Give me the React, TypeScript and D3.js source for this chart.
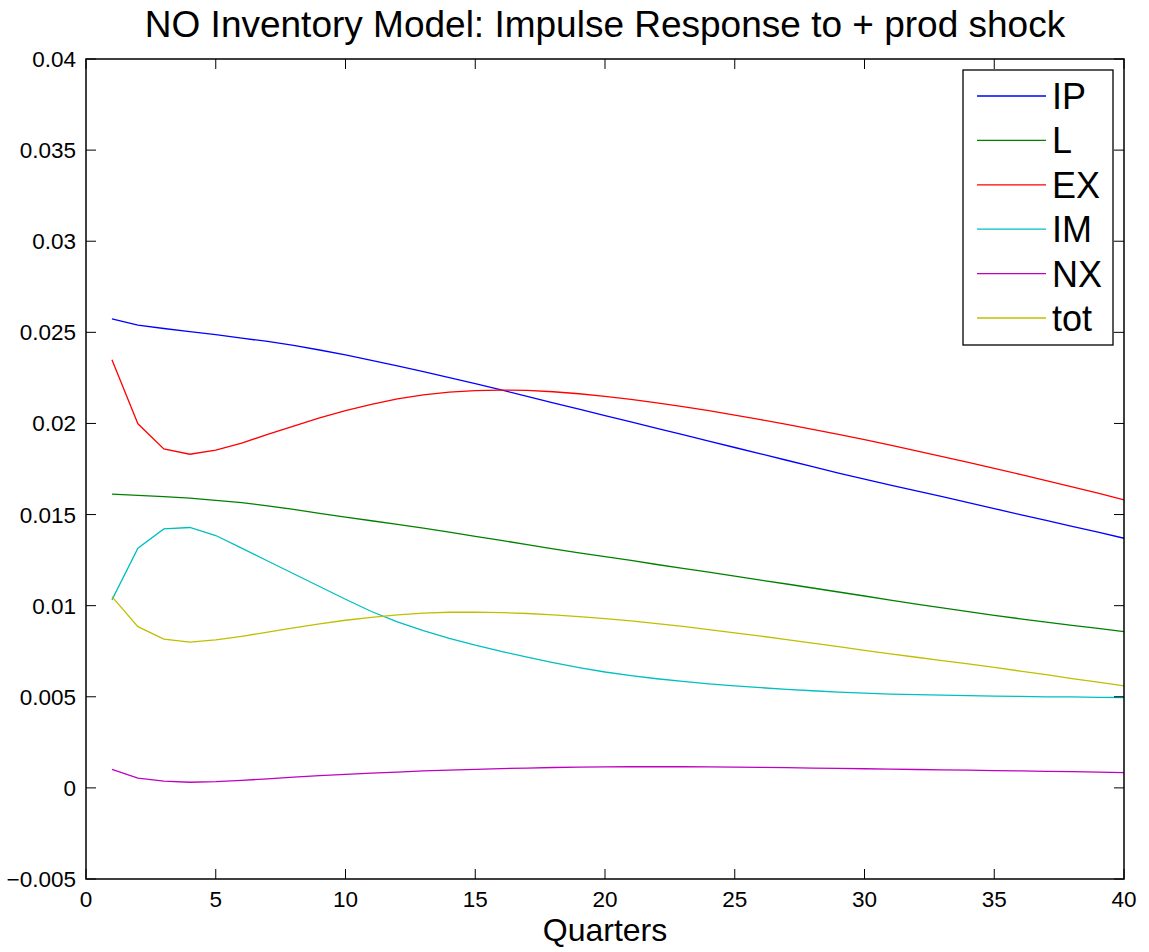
import React from "react";
import * as d3 from "d3";

// quarters 1..40
const quarters = d3.range(1, 41);

const IP = [
  0.02574, 0.02539, 0.02521, 0.02504, 0.02488, 0.02468, 0.0245, 0.02428, 0.02403, 0.02376,
  0.02346, 0.02316, 0.02284, 0.02252, 0.02218, 0.02184, 0.02149, 0.02113, 0.02078, 0.02043,
  0.02008, 0.01973, 0.01938, 0.01903, 0.01868, 0.01833, 0.01798, 0.01763, 0.01728, 0.01694,
  0.01662, 0.0163, 0.01598, 0.01565, 0.01533, 0.015, 0.01468, 0.01435, 0.01403, 0.0137,
];
const L = [
  0.01612, 0.01605, 0.01598, 0.0159, 0.01578, 0.01565, 0.01548, 0.01528, 0.01507, 0.01486,
  0.01466, 0.01446, 0.01425, 0.01403, 0.0138, 0.01358, 0.01335, 0.01312, 0.0129, 0.01269,
  0.01248, 0.01226, 0.01205, 0.01184, 0.01162, 0.0114, 0.01119, 0.01097, 0.01075, 0.01053,
  0.01031, 0.01009, 0.00988, 0.00967, 0.00947, 0.00928, 0.0091, 0.00892, 0.00875, 0.00858,
];
const EX = [
  0.02349, 0.01998, 0.0186, 0.01831, 0.01853, 0.01892, 0.0194, 0.01985, 0.0203, 0.0207,
  0.02105, 0.02135, 0.02157, 0.02172, 0.0218, 0.02183, 0.02181, 0.02174, 0.02163, 0.02149,
  0.02132, 0.02113, 0.02092, 0.0207, 0.02046, 0.02021, 0.01995, 0.01968, 0.0194, 0.01911,
  0.01881, 0.0185, 0.01818, 0.01786, 0.01753, 0.0172, 0.01686, 0.01652, 0.01617, 0.0158,
];
const IM = [
  0.01032, 0.01315, 0.01421, 0.01429, 0.01385, 0.01316, 0.01245, 0.01175, 0.01105, 0.01035,
  0.00968, 0.00911, 0.00863, 0.00821, 0.00783, 0.00749, 0.00717, 0.00687, 0.0066, 0.00636,
  0.00616, 0.00599, 0.00584, 0.00571, 0.0056, 0.0055, 0.00541, 0.00533, 0.00526, 0.0052,
  0.00515, 0.00512, 0.00509, 0.00506, 0.00504, 0.00502, 0.005, 0.00499, 0.00497, 0.00496,
];
const NX = [
  0.00101, 0.00053, 0.00037, 0.00031, 0.00034, 0.00041, 0.0005, 0.00059, 0.00067, 0.00074,
  0.00081, 0.00087, 0.00093, 0.00098, 0.00102, 0.00106, 0.00109, 0.00112, 0.00114, 0.00115,
  0.00116, 0.00116, 0.00116, 0.00115, 0.00114, 0.00113, 0.00111, 0.00109, 0.00107, 0.00105,
  0.00103, 0.00101, 0.00099, 0.00097, 0.00095, 0.00093, 0.00091, 0.00089, 0.00087, 0.00084,
];
const tot = [
  0.0105, 0.00885, 0.00816, 0.008, 0.00812, 0.00832, 0.00855, 0.00878, 0.009, 0.0092,
  0.00936, 0.0095, 0.00959, 0.00964, 0.00965, 0.00962, 0.00957, 0.00949, 0.0094, 0.00929,
  0.00916, 0.00902, 0.00886, 0.00869, 0.00851, 0.00833, 0.00814, 0.00795, 0.00775, 0.00755,
  0.00736, 0.00717, 0.00698, 0.0068, 0.00661, 0.00641, 0.00621, 0.006, 0.0058, 0.0056,
];

const seriesNames = ["IP", "L", "EX", "IM", "NX", "tot"];
const seriesValues = [IP, L, EX, IM, NX, tot];
const seriesColors = ["#0000ff", "#008000", "#ff0000", "#00bfbf", "#bf00bf", "#bfbf00"];

const xTicks = [0, 5, 10, 15, 20, 25, 30, 35, 40];
const yTicks = [-0.005, 0, 0.005, 0.01, 0.015, 0.02, 0.025, 0.03, 0.035, 0.04];

const W = 1149;
const H = 952;
const margin = { top: 59, right: 25, bottom: 73, left: 86 };
const font = "'Liberation Sans', Arial, Helvetica, sans-serif";

const fmtY = (v: number) => {
  if (v === 0) return "0";
  const s = String(Math.abs(v));
  return v < 0 ? "\u2212" + s : s;
};

export default function App() {
  const x = d3.scaleLinear().domain([0, 40]).range([margin.left, W - margin.right]);
  const y = d3.scaleLinear().domain([-0.005, 0.04]).range([H - margin.bottom, margin.top]);
  const line = d3
    .line<number>()
    .x((_, i) => x(quarters[i]))
    .y((d) => y(d));

  const x0 = x.range()[0];
  const x1 = x.range()[1];
  const y0 = y.range()[0];
  const y1 = y.range()[1];
  const tick = 10;

  const legX = 963;
  const legY = 70;
  const legW = 150;
  const legRow = 44.4;

  return (
    <div style={{ position: "absolute", left: 0, top: 0 }}>
      <svg width={W} height={H} style={{ display: "block", background: "#fff" }}>
        <rect x={0} y={0} width={W} height={H} fill="#fff" />
        {/* series */}
        {seriesValues.map((vals, i) => (
          <path
            key={seriesNames[i]}
            d={line(vals) || ""}
            fill="none"
            stroke={seriesColors[i]}
            strokeWidth={1.3}
          />
        ))}

        {/* ticks */}
        {xTicks.map((t) => (
          <g key={"x" + t}>
            <line x1={x(t)} x2={x(t)} y1={y0} y2={y0 - tick} stroke="#000" strokeWidth={1} />
            <line x1={x(t)} x2={x(t)} y1={y1} y2={y1 + tick} stroke="#000" strokeWidth={1} />
            <text
              x={x(t)}
              y={y0 + 28}
              textAnchor="middle"
              fontFamily={font}
              fontSize={22.5}
              fill="#000"
            >
              {t}
            </text>
          </g>
        ))}
        {yTicks.map((t) => (
          <g key={"y" + t}>
            <line x1={x0} x2={x0 + tick} y1={y(t)} y2={y(t)} stroke="#000" strokeWidth={1} />
            <line x1={x1} x2={x1 - tick} y1={y(t)} y2={y(t)} stroke="#000" strokeWidth={1} />
            <text
              x={x0 - 10}
              y={y(t) + 8}
              textAnchor="end"
              fontFamily={font}
              fontSize={22.5}
              fill="#000"
            >
              {fmtY(t)}
            </text>
          </g>
        ))}

        {/* axes box */}
        <rect
          x={x0}
          y={y1}
          width={x1 - x0}
          height={y0 - y1}
          fill="none"
          stroke="#000"
          strokeWidth={1.5}
        />

        {/* legend */}
        <rect x={legX} y={legY} width={legW} height={275} fill="#fff" stroke="#000" strokeWidth={1.3} />
        {seriesNames.map((name, i) => {
          const cy = legY + 26 + i * legRow;
          return (
            <g key={"leg" + name}>
              <line x1={977} x2={1046} y1={cy} y2={cy} stroke={seriesColors[i]} strokeWidth={1.3} />
              <text x={1052} y={cy + 13} fontFamily={font} fontSize={36} fill="#000">
                {name}
              </text>
            </g>
          );
        })}

        {/* title & axis label */}
        <text
          x={(x0 + x1) / 2}
          y={37}
          textAnchor="middle"
          fontFamily={font}
          fontSize={37}
          fill="#000"
        >
          NO Inventory Model: Impulse Response to + prod shock
        </text>
        <text
          x={(x0 + x1) / 2}
          y={941}
          textAnchor="middle"
          fontFamily={font}
          fontSize={32}
          fill="#000"
        >
          Quarters
        </text>
      </svg>
    </div>
  );
}
